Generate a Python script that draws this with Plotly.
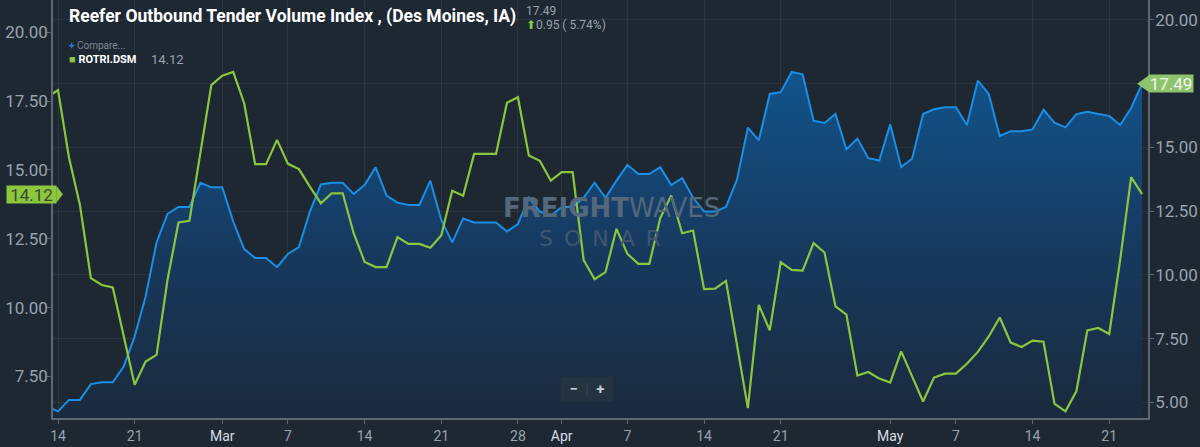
import pandas as pd
import plotly.graph_objects as go

# daily points, Feb 13 -> May 24
dates = pd.date_range("2019-02-13", "2019-05-24", freq="D")

# Reefer Outbound Tender Volume Index (right axis, blue area)
rotvi = [4.84, 4.65, 5.10, 5.10, 5.72, 5.79, 5.79, 6.41, 7.59, 9.15,
         11.27, 12.39, 12.66, 12.66, 13.61, 13.43, 13.43, 12.09, 11.01, 10.66,
         10.66, 10.30, 10.82, 11.09, 12.48, 13.54, 13.61, 13.61, 13.17, 13.52,
         14.22, 13.11, 12.83, 12.74, 12.74, 13.69, 12.15, 11.27, 12.21, 12.05,
         12.05, 12.05, 11.70, 11.99, 13.02, 12.48, 12.31, 12.66, 12.66, 13.02,
         13.61, 13.02, 13.69, 14.31, 13.95, 13.95, 14.22, 13.52, 13.79, 13.02,
         12.48, 12.48, 12.66, 13.72, 15.77, 15.27, 17.09, 17.16, 17.95, 17.86,
         16.04, 15.95, 16.30, 14.92, 15.34, 14.57, 14.48, 15.90, 14.22, 14.55,
         16.30, 16.49, 16.57, 16.57, 15.87, 17.61, 17.09, 15.44, 15.63, 15.63,
         15.70, 16.47, 15.96, 15.78, 16.30, 16.39, 16.30, 16.23, 15.87, 16.54,
         17.49]

# ROTRI.DSM (left axis, green line)
rotri = [17.63, 17.90, 15.45, 13.73, 11.07, 10.82, 10.73, 8.98, 7.20, 8.04,
         8.28, 11.01, 13.09, 13.15, 15.60, 18.08, 18.42, 18.56, 17.42, 15.21,
         15.21, 16.09, 15.22, 15.03, 14.39, 13.79, 14.15, 14.15, 12.70, 11.66,
         11.47, 11.47, 12.56, 12.31, 12.31, 12.17, 12.62, 14.24, 14.06, 15.58,
         15.58, 15.58, 17.44, 17.64, 15.52, 15.33, 14.61, 14.92, 14.92, 11.73,
         11.03, 11.29, 12.86, 11.95, 11.59, 11.59, 13.25, 14.07, 12.70, 12.80,
         10.67, 10.69, 10.97, 8.66, 6.35, 10.10, 9.17, 11.65, 11.37, 11.34,
         12.34, 12.00, 10.04, 9.74, 7.53, 7.66, 7.42, 7.28, 8.41, 7.50,
         6.59, 7.46, 7.60, 7.60, 7.96, 8.39, 8.95, 9.64, 8.73, 8.57,
         8.80, 8.76, 6.51, 6.23, 6.96, 9.17, 9.26, 9.04, 11.73, 14.74,
         14.12]

tick_dates = ["2019-02-14", "2019-02-21", "2019-03-01", "2019-03-07", "2019-03-14",
              "2019-03-21", "2019-03-28", "2019-04-01", "2019-04-07", "2019-04-14",
              "2019-04-21", "2019-05-01", "2019-05-07", "2019-05-14", "2019-05-21"]
tick_text = ["14", "21", "Mar", "7", "14", "21", "28", "Apr", "7", "14", "21",
             "May", "7", "14", "21"]

right_ticks = [5.0, 7.5, 10.0, 12.5, 15.0, 17.5, 20.0]
left_ticks = [7.5, 10.0, 12.5, 15.0, 17.5, 20.0]

BG = "#1d2833"
GRID = "rgba(255,255,255,0.06)"
AXIS = "#5d6873"
TXT = "#9aa3ad"
BLUE = "#1a8fe3"
GREEN = "#8cc63f"
TAG = "#8ec46e"

ticks_fmt = [f"<span style='color:#d8dde2'>{t}</span>" if t.isalpha() else t
             for t in tick_text]
# the 17.50 label on the right sits under the last-value tag
right_text = ["" if v == 17.5 else f"{v:.2f}" for v in right_ticks]

fig = go.Figure()

fig.add_trace(go.Scatter(
    x=dates, y=rotvi, yaxis="y", mode="lines",
    line=dict(color=BLUE, width=2),
    fill="tozeroy",
    fillgradient=dict(type="vertical", start=4.4, stop=18.0,
                      colorscale=[[0, "#1b2a3d"], [0.5, "#173a60"], [1, "#11548c"]]),
    hoverinfo="skip", showlegend=False,
))
fig.add_trace(go.Scatter(
    x=dates, y=rotri, yaxis="y2", mode="lines",
    line=dict(color=GREEN, width=2.2),
    hoverinfo="skip", showlegend=False,
))

fig.update_layout(
    width=1200, height=447,
    margin=dict(l=53, r=52, t=0, b=29),
    paper_bgcolor=BG, plot_bgcolor=BG,
    font=dict(family="Roboto", color=TXT),
    xaxis=dict(
        type="date", range=["2019-02-13 13:00", "2019-05-24 13:00"],
        tickvals=tick_dates, ticktext=ticks_fmt,
        tickfont=dict(size=14, color=TXT),
        ticks="outside", ticklen=4, tickcolor=AXIS,
        showgrid=True, gridcolor=GRID,
        showline=True, linecolor=AXIS, linewidth=1.5, zeroline=False,
    ),
    yaxis=dict(
        side="right", range=[4.39, 20.77], tickvals=right_ticks, ticktext=right_text,
        tickfont=dict(size=17, color=TXT), ticklabelstandoff=-2,
        ticks="outside", ticklen=4, tickcolor=AXIS,
        showgrid=True, gridcolor=GRID,
        showline=True, linecolor=AXIS, linewidth=1.5, zeroline=False,
    ),
    yaxis2=dict(
        side="left", overlaying="y", range=[5.99, 21.17],
        tickvals=left_ticks, tickformat=".2f",
        tickfont=dict(size=17, color=TXT), ticklabelstandoff=-4,
        ticks="outside", ticklen=4, tickcolor=AXIS,
        showgrid=False,
        showline=True, linecolor=AXIS, linewidth=1.5, zeroline=False,
    ),
)

# last-value tags
fig.add_shape(type="path", xref="paper", yref="y2", ysizemode="pixel", yanchor=rotri[-1],
              path="M 0.0030,-8.5 L 0.0091,0 L 0.0030,8.5 Z",
              fillcolor=GREEN, line=dict(width=0))
fig.add_annotation(xref="paper", yref="y2", x=-0.0196, y=rotri[-1], text=f"{rotri[-1]:.2f}",
                   xanchor="center", yanchor="middle",
                   showarrow=False, bgcolor=GREEN, width=49, height=17, borderpad=0,
                   font=dict(size=17, color="#3a4a2c"))
fig.add_shape(type="path", xref="paper", yref="y", ysizemode="pixel", yanchor=rotvi[-1],
              path="M 0.9900,0 L 1.0010,-8.5 L 1.0010,8.5 Z",
              fillcolor=TAG, line=dict(width=0))
fig.add_annotation(xref="paper", yref="y", x=1.0210, y=rotvi[-1], text=f"{rotvi[-1]:.2f}",
                   xanchor="center", yanchor="middle",
                   showarrow=False, bgcolor=TAG, width=44, height=17, borderpad=0,
                   font=dict(size=17, color="#f2f5ee"))

# header
fig.add_annotation(xref="paper", yref="paper", x=0.0128, y=0.96, xanchor="left", yanchor="middle",
                   text="<b>Reefer Outbound Tender Volume Index , (Des Moines, IA)</b>",
                   showarrow=False, font=dict(size=17.5, color="#ffffff"))
fig.add_annotation(xref="paper", yref="paper", x=0.4300, y=0.973, xanchor="left", yanchor="middle",
                   text="17.49", showarrow=False, font=dict(size=12, color=TXT))
fig.add_annotation(xref="paper", yref="paper", x=0.4300, y=0.940, xanchor="left", yanchor="middle",
                   text=f"<span style='color:{GREEN}'>⬆</span>0.95 ( 5.74%)",
                   showarrow=False, font=dict(size=12, color=TXT))
fig.add_annotation(xref="paper", yref="paper", x=0.0128, y=0.891, xanchor="left", yanchor="middle",
                   text="<span style='color:#2a7fe0'><b>+</b></span> Compare...",
                   showarrow=False, font=dict(size=10, color="#7d8792"))
fig.add_annotation(xref="paper", yref="paper", x=0.0128, y=0.857, xanchor="left", yanchor="middle",
                   text=f"<span style='color:{GREEN}'>■</span> <b>ROTRI.DSM</b>",
                   showarrow=False, font=dict(size=11, color="#ffffff"))
fig.add_annotation(xref="paper", yref="paper", x=0.088, y=0.857, xanchor="left", yanchor="middle",
                   text="14.12", showarrow=False, font=dict(size=13, color=TXT))

# watermark
fig.add_annotation(xref="paper", yref="paper", x=0.5105, y=0.5024, xanchor="center", yanchor="middle",
                   text="<b>FREIGHT</b>WAVES", showarrow=False,
                   font=dict(size=26, color="#55677a", family="DejaVu Sans"))
fig.add_annotation(xref="paper", yref="paper", x=0.4995, y=0.4306, xanchor="center", yanchor="middle",
                   text="S\u2002O\u2002N\u2002A\u2002R", showarrow=False,
                   font=dict(size=22, color="#3f5670", family="DejaVu Sans"))

# zoom buttons
fig.add_annotation(xref="paper", yref="paper", x=0.4877, y=0.069, xanchor="center", yanchor="middle",
                   text="<b>−</b>  <span style='color:#3a4654'>|</span>  <b>+</b>", showarrow=False,
                   bgcolor="#253240", width=50, height=22,
                   font=dict(size=15, color="#c8cdd2"))

fig.write_html("out.html", config={"displayModeBar": False},
               post_script="document.body.style.margin='0';")
